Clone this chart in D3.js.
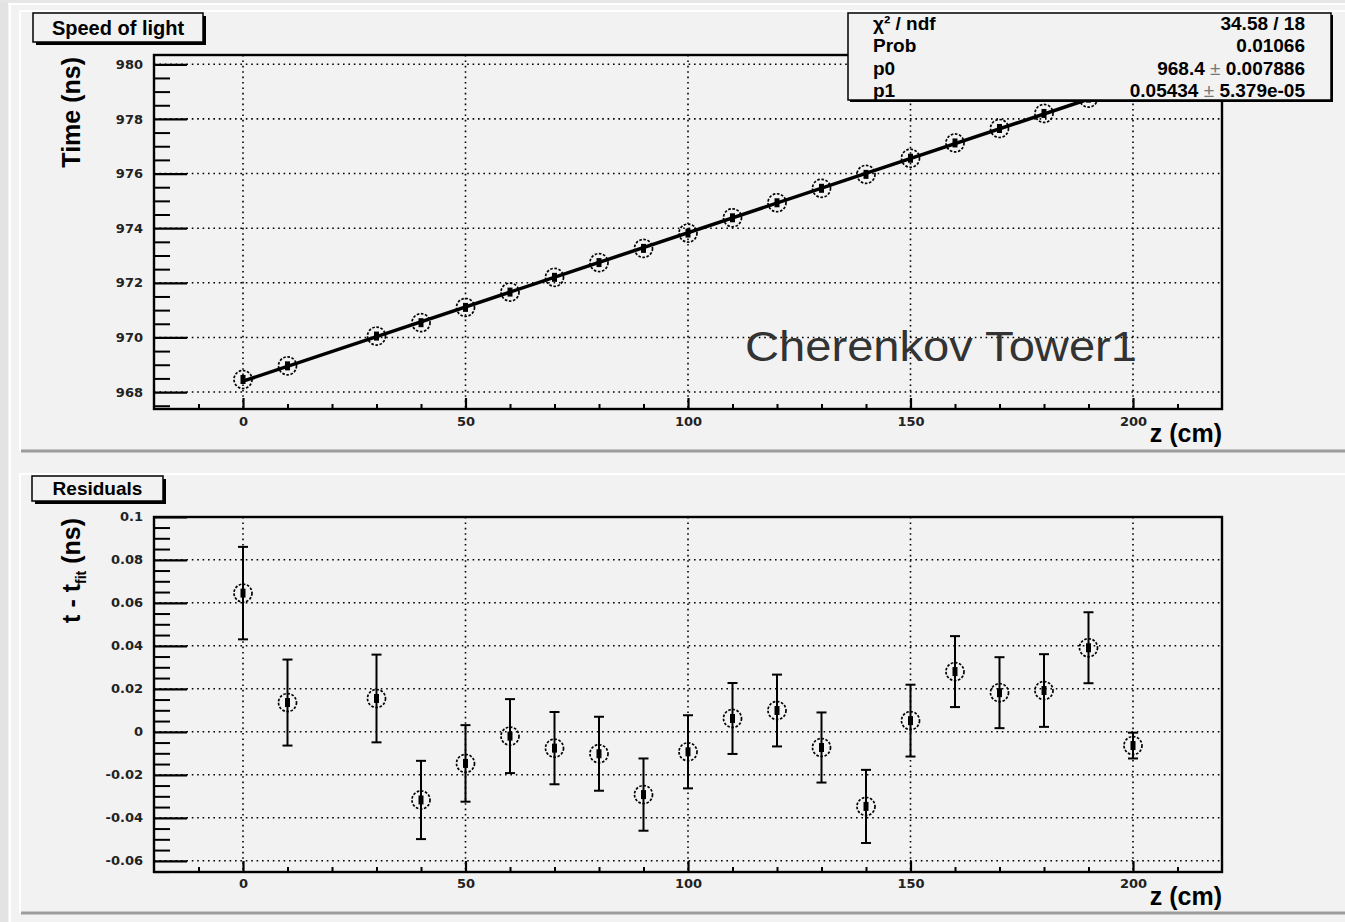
<!DOCTYPE html>
<html>
<head>
<meta charset="utf-8">
<script src="https://cdn.jsdelivr.net/npm/d3@7"></script>
<style>
  body { margin: 0; background: #f2f2f2; }
  svg { display: block; }
</style>
</head>
<body>
<script>
// measured points: z position, time and fit residual
var zPos      = [0, 10, 30, 40, 50, 60, 70, 80, 90, 100, 110, 120, 130, 140, 150, 160, 170, 180, 190, 200];
var timeNs    = [968.46, 968.96, 970.05, 970.54, 971.10, 971.66, 972.20, 972.74, 973.26, 973.82,
                 974.38, 974.93, 975.46, 975.97, 976.56, 977.12, 977.65, 978.20, 978.76, 979.26];
var residNs   = [0.0645, 0.0136, 0.0155, -0.0317, -0.0147, -0.0020, -0.0076, -0.0102, -0.0292, -0.0093,
                 0.0062, 0.0099, -0.0073, -0.0347, 0.0052, 0.0280, 0.0182, 0.0192, 0.0391, -0.0064];
var residErr  = [0.0215, 0.0200, 0.0204, 0.0182, 0.0178, 0.0172, 0.0168, 0.0172, 0.0168, 0.0170,
                 0.0165, 0.0167, 0.0163, 0.0170, 0.0167, 0.0165, 0.0165, 0.0169, 0.0165, 0.0060];

// fit result
var fitP0 = 968.4, fitP1 = 0.05434, fitRange = [0, 200];

// axes
var zTicks     = [0, 50, 100, 150, 200];
var timeTicks  = [968, 970, 972, 974, 976, 978, 980];
var residTicks = [-0.06, -0.04, -0.02, 0, 0.02, 0.04, 0.06, 0.08, 0.1];

var statNames  = ["\u03c7\u00b2 / ndf", "Prob", "p0", "p1"];
var statValues = ["34.58 / 18", "0.01066", "968.4 \u00b1 0.007886", "0.05434 \u00b1 5.379e-05"];

var W = 1345, H = 922
  , frameL = 154, frameR = 1222
  , top1 = 55, bot1 = 409
  , top2 = 517, bot2 = 872
  , font = "'Liberation Sans', Arial, sans-serif"
  , tickFont = "'DejaVu Sans', sans-serif";

var svg = d3.select("body").append("svg")
    .attr("width", W)
    .attr("height", H);

// canvas + pads
svg.append("rect").attr("width", W).attr("height", H).attr("fill", "#f2f2f2");
svg.append("rect").attr("width", 8).attr("height", H).attr("fill", "#e3e3e3");
svg.append("rect").attr("width", W).attr("height", 3).attr("fill", "#e6e6e6");
svg.append("line").attr("x1", 8).attr("x2", W).attr("y1", 4).attr("y2", 4).attr("stroke", "#fff").attr("stroke-width", 2);
svg.append("line").attr("x1", 10).attr("x2", 10).attr("y1", 4).attr("y2", H).attr("stroke", "#fff").attr("stroke-width", 2);

function pad(y0, y1) {
  svg.append("line").attr("x1", 20).attr("x2", W).attr("y1", y0).attr("y2", y0).attr("stroke", "#fff").attr("stroke-width", 2);
  svg.append("line").attr("x1", 20).attr("x2", 20).attr("y1", y0).attr("y2", y1).attr("stroke", "#fff").attr("stroke-width", 2);
  svg.append("line").attr("x1", 21).attr("x2", W).attr("y1", y1).attr("y2", y1).attr("stroke", "#9c9c9c").attr("stroke-width", 3);
}
pad(11, 451);
pad(474, 913);

var x = d3.scaleLinear().domain([-20, 220]).range([frameL, frameR]);
var yTime = d3.scaleLinear().domain([967.38, 980.34]).range([bot1, top1]);
var yRes = d3.scaleLinear().domain([-0.0652, 0.0999]).range([bot2, top2]);

function panel(y, top, bot, majors, minorStep, labelPad) {
  var g = svg.append("g");
  var dom = y.domain();

  // grid
  g.selectAll(".hgrid").data(majors).enter().append("line")
      .attr("x1", frameL).attr("x2", frameR)
      .attr("y1", y).attr("y2", y)
      .attr("stroke", "#000").attr("stroke-width", 1.6)
      .attr("stroke-dasharray", "1.6,3.8");
  g.selectAll(".vgrid").data(zTicks).enter().append("line")
      .attr("x1", x).attr("x2", x)
      .attr("y1", top).attr("y2", bot)
      .attr("stroke", "#000").attr("stroke-width", 1.6)
      .attr("stroke-dasharray", "1.6,3.8");

  // y axis, major + minor
  var yMinor = d3.range(Math.ceil(dom[0] / minorStep) * minorStep, dom[1], minorStep)
    .filter(function(v) { return majors.every(function(m) { return Math.abs(m - v) > minorStep / 10; }); });
  g.append("g").attr("transform", "translate(" + frameL + ",0)")
      .call(d3.axisLeft(y).tickValues(yMinor).tickSizeInner(-16).tickSizeOuter(0).tickFormat(""))
      .call(function(a) { a.select(".domain").remove(); a.selectAll("line").attr("stroke-width", 2); });
  var ya = g.append("g").attr("transform", "translate(" + frameL + ",0)")
      .call(d3.axisLeft(y).tickValues(majors).tickSizeInner(-33).tickSizeOuter(0).tickPadding(11)
        .tickFormat(function(d) { return String(d); }));
  ya.select(".domain").remove();
  ya.selectAll("line").attr("stroke-width", 2.2);
  ya.selectAll("text").attr("font-family", tickFont).attr("font-weight", "bold")
      .attr("font-size", 13).attr("fill", "#222");

  // x axis, major + minor
  var xMinor = d3.range(-10, 220, 10).filter(function(v) { return v % 50 !== 0; });
  g.append("g").attr("transform", "translate(0," + bot + ")")
      .call(d3.axisBottom(x).tickValues(xMinor).tickSizeInner(-5).tickSizeOuter(0).tickFormat(""))
      .call(function(a) { a.select(".domain").remove(); a.selectAll("line").attr("stroke-width", 2); });
  var xa = g.append("g").attr("transform", "translate(0," + bot + ")")
      .call(d3.axisBottom(x).tickValues(zTicks).tickSizeInner(-11).tickSizeOuter(0).tickPadding(labelPad));
  xa.select(".domain").remove();
  xa.selectAll("line").attr("stroke-width", 2.2);
  xa.selectAll("text").attr("font-family", tickFont).attr("font-weight", "bold")
      .attr("font-size", 13).attr("fill", "#222");

  // frame
  g.append("rect")
      .attr("x", frameL).attr("y", top)
      .attr("width", frameR - frameL).attr("height", bot - top)
      .attr("fill", "none").attr("stroke", "#000").attr("stroke-width", 2.4);

  // x title
  g.append("text")
      .attr("x", frameR).attr("y", bot + 33)
      .attr("text-anchor", "end")
      .attr("font-family", font).attr("font-weight", "bold").attr("font-size", 25)
      .text("z (cm)");
  return g;
}

function titleBox(txt, x0, y0, w, h, size) {
  svg.append("rect").attr("x", x0 + 3).attr("y", y0 + 3).attr("width", w).attr("height", h).attr("fill", "#000");
  svg.append("rect").attr("x", x0).attr("y", y0).attr("width", w).attr("height", h)
      .attr("fill", "#f2f2f2").attr("stroke", "#000").attr("stroke-width", 1.5);
  svg.append("text")
      .attr("x", x0 + w / 2).attr("y", y0 + h / 2 + size * 0.36)
      .attr("text-anchor", "middle")
      .attr("font-family", font).attr("font-weight", "bold").attr("font-size", size)
      .text(txt);
}

function marker(g, cx, cy) {
  g.append("circle").attr("cx", cx).attr("cy", cy).attr("r", 9)
      .attr("fill", "none").attr("stroke", "#000").attr("stroke-width", 1.7)
      .attr("stroke-dasharray", "2.6,1.6");
  g.append("rect").attr("x", cx - 2.5).attr("y", cy - 4.5).attr("width", 5).attr("height", 9).attr("fill", "#000");
}

// ---------- top panel
var p1 = panel(yTime, top1, bot1, timeTicks, 0.5, 8);

p1.append("text")
    .attr("x", 745).attr("y", 361)
    .attr("font-family", font).attr("font-size", 42).attr("fill", "#333")
    .attr("textLength", 392).attr("lengthAdjust", "spacingAndGlyphs")
    .text("Cherenkov Tower1");

var fitLine = d3.line()
    .x(function(z) { return x(z); })
    .y(function(z) { return yTime(fitP0 + fitP1 * z); });
p1.append("path")
    .attr("d", fitLine(fitRange))
    .attr("fill", "none").attr("stroke", "#000").attr("stroke-width", 3.5);

zPos.forEach(function(z, i) { marker(p1, x(z), yTime(timeNs[i])); });

svg.append("text")
    .attr("transform", "translate(80,57) rotate(-90)")
    .attr("text-anchor", "end")
    .attr("font-family", font).attr("font-weight", "bold").attr("font-size", 25)
    .text("Time (ns)");

titleBox("Speed of light", 33, 13, 170, 29, 20);

// stats box
var sx = 848, sy = 13, sw = 483, sh = 87;
svg.append("rect").attr("x", sx + 2).attr("y", sy + 2).attr("width", sw).attr("height", sh).attr("fill", "#000");
svg.append("rect").attr("x", sx).attr("y", sy).attr("width", sw).attr("height", sh)
    .attr("fill", "#f2f2f2").attr("stroke", "#000").attr("stroke-width", 1.5);
var rowBase = [30, 52, 75, 97];
statNames.forEach(function(n, i) {
  svg.append("text")
      .attr("x", 873).attr("y", rowBase[i])
      .attr("font-family", font).attr("font-weight", "bold").attr("font-size", 19)
      .text(n);
  var parts = statValues[i].split("\u00b1");
  var t = svg.append("text")
      .attr("x", 1305).attr("y", rowBase[i])
      .attr("text-anchor", "end")
      .attr("font-family", font).attr("font-weight", "bold").attr("font-size", 19);
  t.append("tspan").text(parts[0]);
  if (parts.length > 1) {
    t.append("tspan").attr("font-weight", "normal").attr("fill", "#777").text("\u00b1");
    t.append("tspan").text(parts[1]);
  }
});

// ---------- residual panel
var p2 = panel(yRes, top2, bot2, residTicks, 0.005, 7);

zPos.forEach(function(z, i) {
  var cx = x(z), lo = yRes(residNs[i] - residErr[i]), hi = yRes(residNs[i] + residErr[i]);
  p2.append("line").attr("x1", cx).attr("x2", cx).attr("y1", lo).attr("y2", hi)
      .attr("stroke", "#000").attr("stroke-width", 2);
  [lo, hi].forEach(function(yy) {
    p2.append("line").attr("x1", cx - 5).attr("x2", cx + 5).attr("y1", yy).attr("y2", yy)
        .attr("stroke", "#000").attr("stroke-width", 2);
  });
  marker(p2, cx, yRes(residNs[i]));
});

var rt = svg.append("text")
    .attr("transform", "translate(80,518) rotate(-90)")
    .attr("text-anchor", "end")
    .attr("font-family", font).attr("font-weight", "bold").attr("font-size", 25);
rt.append("tspan").text("t - t");
rt.append("tspan").attr("font-size", 14).attr("dy", 6).text("fit");
rt.append("tspan").attr("dy", -6).text(" (ns)");

titleBox("Residuals", 32, 476, 131, 25, 19);
</script>
</body>
</html>
